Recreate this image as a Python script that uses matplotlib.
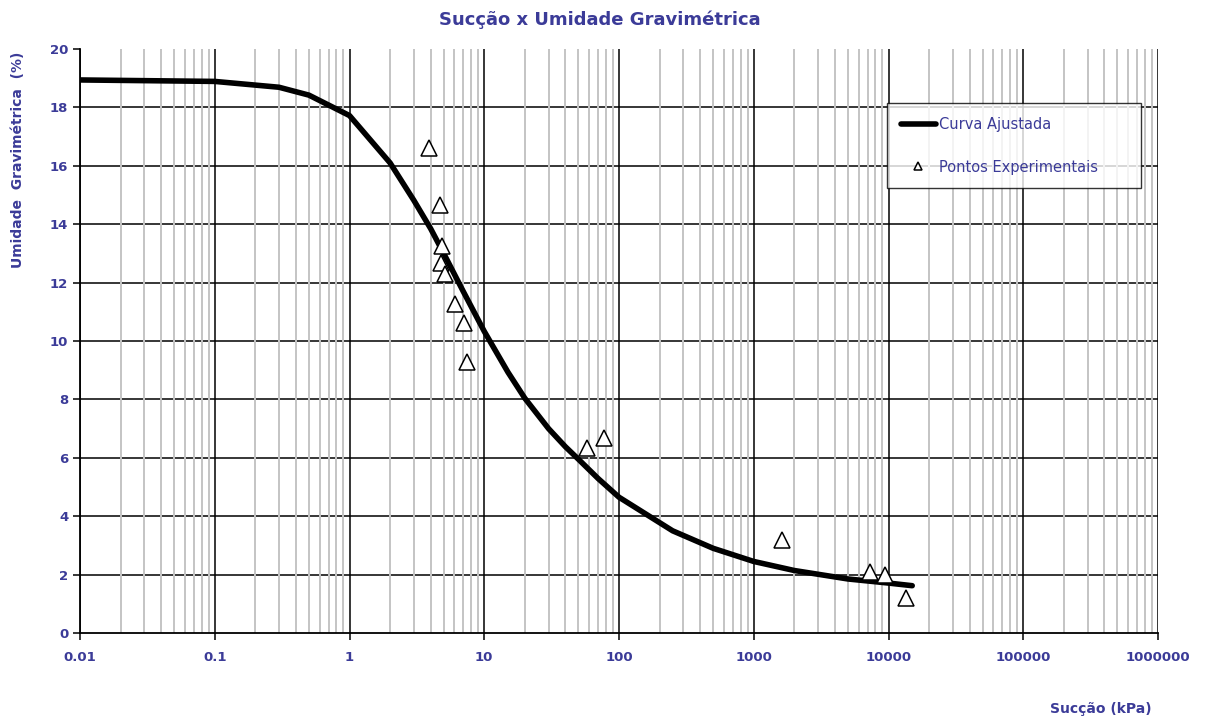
import matplotlib
matplotlib.use("Agg")
import matplotlib.pyplot as plt
from matplotlib.ticker import LogLocator, FixedLocator, NullFormatter, FixedFormatter

# Fitted retention curve (suction in kPa, gravimetric water content in %)
curve_suction = [0.01, 0.1, 0.3, 0.5, 1, 2, 3, 4, 5, 6, 7, 8, 10, 15, 20, 30,
                 40, 50, 70, 100, 250, 500, 1000, 2000, 5000, 10000, 15000]
curve_moisture = [18.94, 18.89, 18.69, 18.42, 17.72, 16.10, 14.82, 13.85, 13.00,
                  12.29, 11.69, 11.18, 10.33, 8.93, 8.04, 7.00, 6.38, 5.95, 5.29,
                  4.65, 3.50, 2.90, 2.45, 2.14, 1.85, 1.71, 1.62]

# Experimental points
exp_suction = [3.92, 4.71, 4.84, 4.74, 5.13, 6.05, 7.05, 7.43, 57.7, 78.0,
               1615, 7350, 9450, 13450]
exp_moisture = [16.60, 14.66, 13.25, 12.66, 12.29, 11.27, 10.61, 9.29, 6.33,
                6.67, 3.18, 2.10, 1.99, 1.19]

x_ticks = [0.01, 0.1, 1, 10, 100, 1000, 10000, 100000, 1000000]
x_tick_labels = ["0.01", "0.1", "1", "10", "100", "1000", "10000", "100000", "1000000"]
y_ticks = [0, 2, 4, 6, 8, 10, 12, 14, 16, 18, 20]

TEXT = "#3b3b98"

fig = plt.figure(figsize=(12.05, 7.2), dpi=100)
ax = fig.add_axes([80 / 1205, 1 - 633 / 720, 1078 / 1205, 584 / 720])

ax.set_xscale("log")
ax.set_xlim(0.01, 1e6)
ax.set_ylim(0, 20)

# grid: grey minor verticals, black decades and even-percent horizontals
ax.xaxis.set_major_locator(FixedLocator(x_ticks))
ax.xaxis.set_major_formatter(FixedFormatter(x_tick_labels))
ax.xaxis.set_minor_locator(LogLocator(base=10, subs=range(2, 10), numticks=100))
ax.xaxis.set_minor_formatter(NullFormatter())
ax.yaxis.set_major_locator(FixedLocator(y_ticks))

ax.grid(True, which="minor", axis="x", color="#c4c4c4", linewidth=1.4, zorder=0)
ax.grid(True, which="major", axis="x", color="black", linewidth=1.1, zorder=0.5)
for yv in y_ticks[1:-1]:
    ax.axhline(yv, color="black", linewidth=1.1, zorder=0.5)

for side in ("top", "right"):
    ax.spines[side].set_visible(False)
for side in ("left", "bottom"):
    ax.spines[side].set_linewidth(1.3)

ax.tick_params(axis="both", which="major", direction="out", length=5, width=1.1,
               labelcolor=TEXT, labelsize=9.5)
ax.tick_params(axis="x", which="minor", length=0)
for lbl in ax.get_xticklabels() + ax.get_yticklabels():
    lbl.set_fontweight("bold")
ax.tick_params(axis="x", which="major", pad=8)

ax.plot(curve_suction, curve_moisture, color="black", linewidth=4,
        solid_joinstyle="round", solid_capstyle="round",
        label="Curva Ajustada", zorder=3)
ax.plot(exp_suction, exp_moisture, linestyle="none", marker="^", markersize=12,
        markerfacecolor="white", markeredgecolor="black", markeredgewidth=1.1,
        label="Pontos Experimentais", zorder=4)

leg_x0, leg_y0 = 887 / 1205, 1 - 184 / 720
leg_w, leg_h = (1141 - 887) / 1205, (184 - 103) / 720
leg = ax.legend(loc="upper left", bbox_to_anchor=(leg_x0, leg_y0, leg_w, leg_h),
                bbox_transform=fig.transFigure, mode="expand", frameon=True,
                fancybox=False, fontsize=10.5, handlelength=2.4,
                handletextpad=0.2, borderpad=0.95, labelspacing=1.9,
                markerscale=0.45, borderaxespad=0)
leg.get_frame().set_edgecolor("black")
leg.get_frame().set_linewidth(1.0)
for t in leg.get_texts():
    t.set_color(TEXT)

fig.text(600 / 1205, 1 - 20 / 720, "Sucção x Umidade Gravimétrica", ha="center",
         va="center", fontsize=13, fontweight="bold", color=TEXT)
fig.text(18 / 1205, 1 - 160 / 720, "Umidade  Gravimétrica  (%)", ha="center",
         va="center", rotation=90, fontsize=10, fontweight="bold", color=TEXT)
fig.text(1101 / 1205, 1 - 709 / 720, "Sucção (kPa)", ha="center", va="center",
         fontsize=10, fontweight="bold", color=TEXT)

fig.savefig("out.png", dpi=100, facecolor="white")
